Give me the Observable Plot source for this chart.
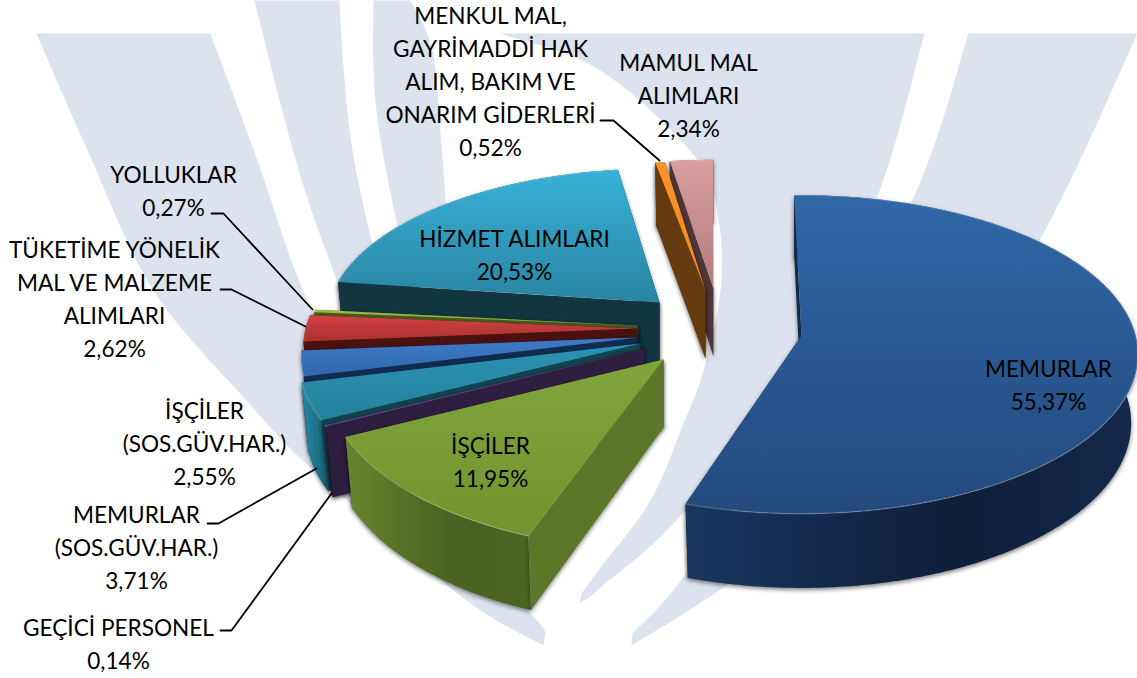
<!DOCTYPE html>
<html lang="tr">
<head>
<meta charset="utf-8">
<title>Pasta grafik</title>
<style>
html,body{margin:0;padding:0;background:#fff;overflow:hidden}
svg{display:block}
.duvar path{filter:drop-shadow(0 2px 2px rgba(0,0,0,.5))}
</style>
<script src="https://cdn.jsdelivr.net/npm/d3@7"></script>
<script src="https://cdn.jsdelivr.net/npm/@observablehq/plot@0.6"></script>
</head>
<body>
<script>
// ---- values (clockwise from 12 o'clock)
const categories = ["MEMURLAR","İŞÇİLER","GEÇİCİ PERSONEL","MEMURLAR\n(SOS.GÜV.HAR.)","İŞÇİLER\n(SOS.GÜV.HAR.)",
  "TÜKETİME YÖNELİK\nMAL VE MALZEME\nALIMLARI","YOLLUKLAR","HİZMET ALIMLARI",
  "MENKUL MAL,\nGAYRİMADDİ HAK\nALIM, BAKIM VE\nONARIM GİDERLERİ","MAMUL MAL\nALIMLARI"];
const values = [55.37,11.95,0.14,3.71,2.55,2.62,0.27,20.53,0.52,2.34];

// ---- layout of the exploded, tilted pie (per slice: apex, radii, rotation)
const apexX = [801,663,644,640,637,636,637,659,705,713];
const apexY = [335,359,348,343,337,328,325,302,290,288];
const radX  = [334,335,339,339,334,331,328,330,330,334];
const radY  = [157,168,159,159,159,159,159,150,145,144];
const turn  = [-1.4,1.7,0,0,0,0,0,2.2,.5,0];
const tilt = 0.119, depth = 68, bottomX = 0.98, bottomY = 1.035;

// ---- label anchors (centres)
const labelX = [1048,490,118,136,204,114,173,514,490,688];
const labelY = [385,462,644,548,444,299,191,255,82,96];
const paintOrder = [7,6,5,4,3,2,1,9,8,0];

// ---- styles: [top start, top end], outer wall stops, radial wall
const topFill = [["#3067a8","#234a7d"],["#80a53b","#72932f"],["#6b4a96","#5d3f85"],["#2a93b3","#26809d"],["#3d7bc8","#3168ad"],
  ["#d34242","#a93030"],["#9dbd40","#8aa838"],["#37b2d8","#2a84a2"],["#fa9428","#f08a20"],["#d99e9e","#b17c7c"]];
const wallFill = [["#1a3660","#0d1e38","#14294b"],["#66852f","#4a601f","#4d6522"],["#2f1f42","#2b1c3c","#2b1c3c"],["#248aa8","#1e6f88","#1a6078"],["#2a5a98","#244e85","#1e4475"],
  ["#8a2525","#6a1a1a","#5a1515"],["#5f7528","#4f6020","#4f6020"],["#123843","#10333d","#10333d"],["#6a3d10","#5a3208","#5a3208"],["#5a3f42","#4a3437","#4a3437"]];
const sideFill = ["#12294a","#5c772a","#2e1e40","#13434f","#122c50","#4a1111","#4a5820","#11363f","#643a0e","#503638"];

// ---- pale logo behind the chart: each feather is a list of edges, each edge is smoothed
const feathers = [
  [[[36,33],[210,33]],
   [[210,33],[257,160],[307,300],[380,430],[470,550],[534,617],[545,632]],
   [[545,632],[543,645]],
   [[543,645],[462,597],[315,472],[246,400],[153,290],[87,150],[36,33]]],
  [[[254,0],[339,0]],
   [[339,0],[343,67],[352,150],[373,248],[385,280]],
   [[385,280],[350,315]],
   [[350,315],[339,287],[306,195],[279,100],[254,0]]],
  [[[373,0],[410,0]],
   [[410,0],[432,50],[440,133],[445,200],[446,240]],
   [[446,240],[408,260]],
   [[408,260],[398,230],[379,133],[373,67],[373,0]]],
  [[[500,33],[924,33]],
   [[924,33],[876,198],[800,340],[687,507],[600,587],[579,603]],
   [[579,603],[581,593]],
   [[581,593],[600,567],[650,500],[683,423],[703,370],[720,290],[718,220],[696,158],[600,70],[500,33]]],
  [[[968,33],[1137,33]],
   [[1137,33],[1038,242],[900,460],[723,587],[631,645]],
   [[631,645],[632,633]],
   [[632,633],[688,570],[800,400],[913,197],[968,33]]]
];
const leaders = [
  [[211,213],[223,213],[312,309]],
  [[220,289],[231,289],[305,326]],
  [[207,523],[218,523],[316,468]],
  [[220,630],[231,630],[331,493]],
  [[600,120],[613,120],[659,160]]
];

// ---- derive the geometry from the values
const ends = Array.from(d3.cumsum(values));
const pct = v => v.toFixed(2).replace(".", ",") + "%";
const rad = d => d * Math.PI / 180;
function rimPoint(i, angle) {
  const a = rad(angle + turn[i]);
  const u = Math.sin(a), v = -Math.cos(a), w = 1 - tilt * v;
  return [radX[i] * u / w, radY[i] * v / w];
}
const topOf = (i, p) => [apexX[i] + p[0], apexY[i] + p[1]];
const botOf = (i, p) => [apexX[i] + p[0] * bottomX, apexY[i] + depth + p[1] * bottomY];
function rim(i) {
  const a0 = (ends[i] - values[i]) * 3.6, a1 = ends[i] * 3.6;
  const n = Math.max(2, Math.ceil(a1 - a0) * 2);
  return d3.range(n + 1).map(k => rimPoint(i, a0 + (a1 - a0) * k / n));
}
function smooth(edge) {
  if (edge.length < 3) return edge;
  const out = [];
  for (let i = 0; i < edge.length - 1; i++) {
    const p0 = edge[Math.max(i - 1, 0)], p1 = edge[i], p2 = edge[i + 1], p3 = edge[Math.min(i + 2, edge.length - 1)];
    for (let k = 0; k < 12; k++) {
      const t = k / 12, t2 = t * t, t3 = t2 * t;
      out.push([0, 1].map(c => 0.5 * (2 * p1[c] + (p2[c] - p0[c]) * t + (2 * p0[c] - 5 * p1[c] + 4 * p2[c] - p3[c]) * t2 + (3 * p1[c] - p0[c] - 3 * p2[c] + p3[c]) * t3)));
    }
  }
  out.push(edge.at(-1));
  return out;
}
const poly = pts => [...pts, pts[0]].map(([x, y]) => ({x, y}));
const shadowed = (index, scales, values, dims, context, next) => {
  const g = next(index, scales, values, dims, context);
  g.classList.add("duvar");
  return g;
};
const shape = (pts, fill, wall) => Plot.line(poly(pts), {x: "x", y: "y", fill, stroke: "none", curve: "linear", ...(wall ? {render: shadowed} : {})});

// ---- gradients
function defs() {
  const d = d3.create("svg:defs");
  values.forEach((_, i) => {
    const g = d.append("linearGradient").attr("id", "top" + i).attr("x1", 0).attr("x2", 0).attr("y1", 0).attr("y2", 1);
    g.append("stop").attr("offset", 0).attr("stop-color", topFill[i][0]);
    g.append("stop").attr("offset", 1).attr("stop-color", topFill[i][1]);
    const h = d.append("linearGradient").attr("id", "wall" + i).attr("x1", 0).attr("x2", 1).attr("y1", 0).attr("y2", 0);
    h.append("stop").attr("offset", 0).attr("stop-color", wallFill[i][0]);
    h.append("stop").attr("offset", .6).attr("stop-color", wallFill[i][1]);
    h.append("stop").attr("offset", 1).attr("stop-color", wallFill[i][2]);
  });
  return d.node();
}

// ---- marks
const marks = [defs];
feathers.forEach(f => marks.push(shape(f.flatMap(smooth), "#dde3ee", false)));
paintOrder.forEach(i => {
  const r = rim(i);
  const apexT = [apexX[i], apexY[i]], apexB = [apexX[i], apexY[i] + depth];
  const rimT = r.map(p => topOf(i, p)), rimB = r.map(p => botOf(i, p));
  marks.push(shape([rimT.at(-1), rimB.at(-1), apexB, apexT], sideFill[i], true));
  marks.push(shape([...rimT, ...rimB.slice().reverse()], `url(#wall${i})`, true));
  marks.push(shape([rimT[0], rimB[0], apexB, apexT], sideFill[i], true));
  marks.push(shape([apexT, ...rimT], `url(#top${i})`, false));
  marks.push(Plot.line(rimT.map(([x, y]) => ({x, y})), {x: "x", y: "y", stroke: "#ffffff", strokeOpacity: .18, strokeWidth: 1.5}));
});
leaders.forEach(l => marks.push(Plot.line(l.map(([x, y]) => ({x, y})), {x: "x", y: "y", stroke: "#000", strokeWidth: 1.8})));
marks.push(Plot.text(categories.map((c, i) => ({t: c + "\n" + pct(values[i]), x: labelX[i], y: labelY[i] - 3})), {
  x: "x", y: "y", text: "t", fontSize: 22.6, lineHeight: 33 / 22.6, lineAnchor: "middle", textAnchor: "middle",
  fill: "#000", fontFamily: "Lato, Carlito, sans-serif"
}));

document.body.appendChild(Plot.plot({
  width: 1137, height: 678, margin: 0,
  x: {domain: [0, 1137], range: [0, 1137], axis: null},
  y: {domain: [0, 678], range: [0, 678], axis: null},
  style: {background: "transparent"},
  marks
}));
</script>
</body>
</html>
